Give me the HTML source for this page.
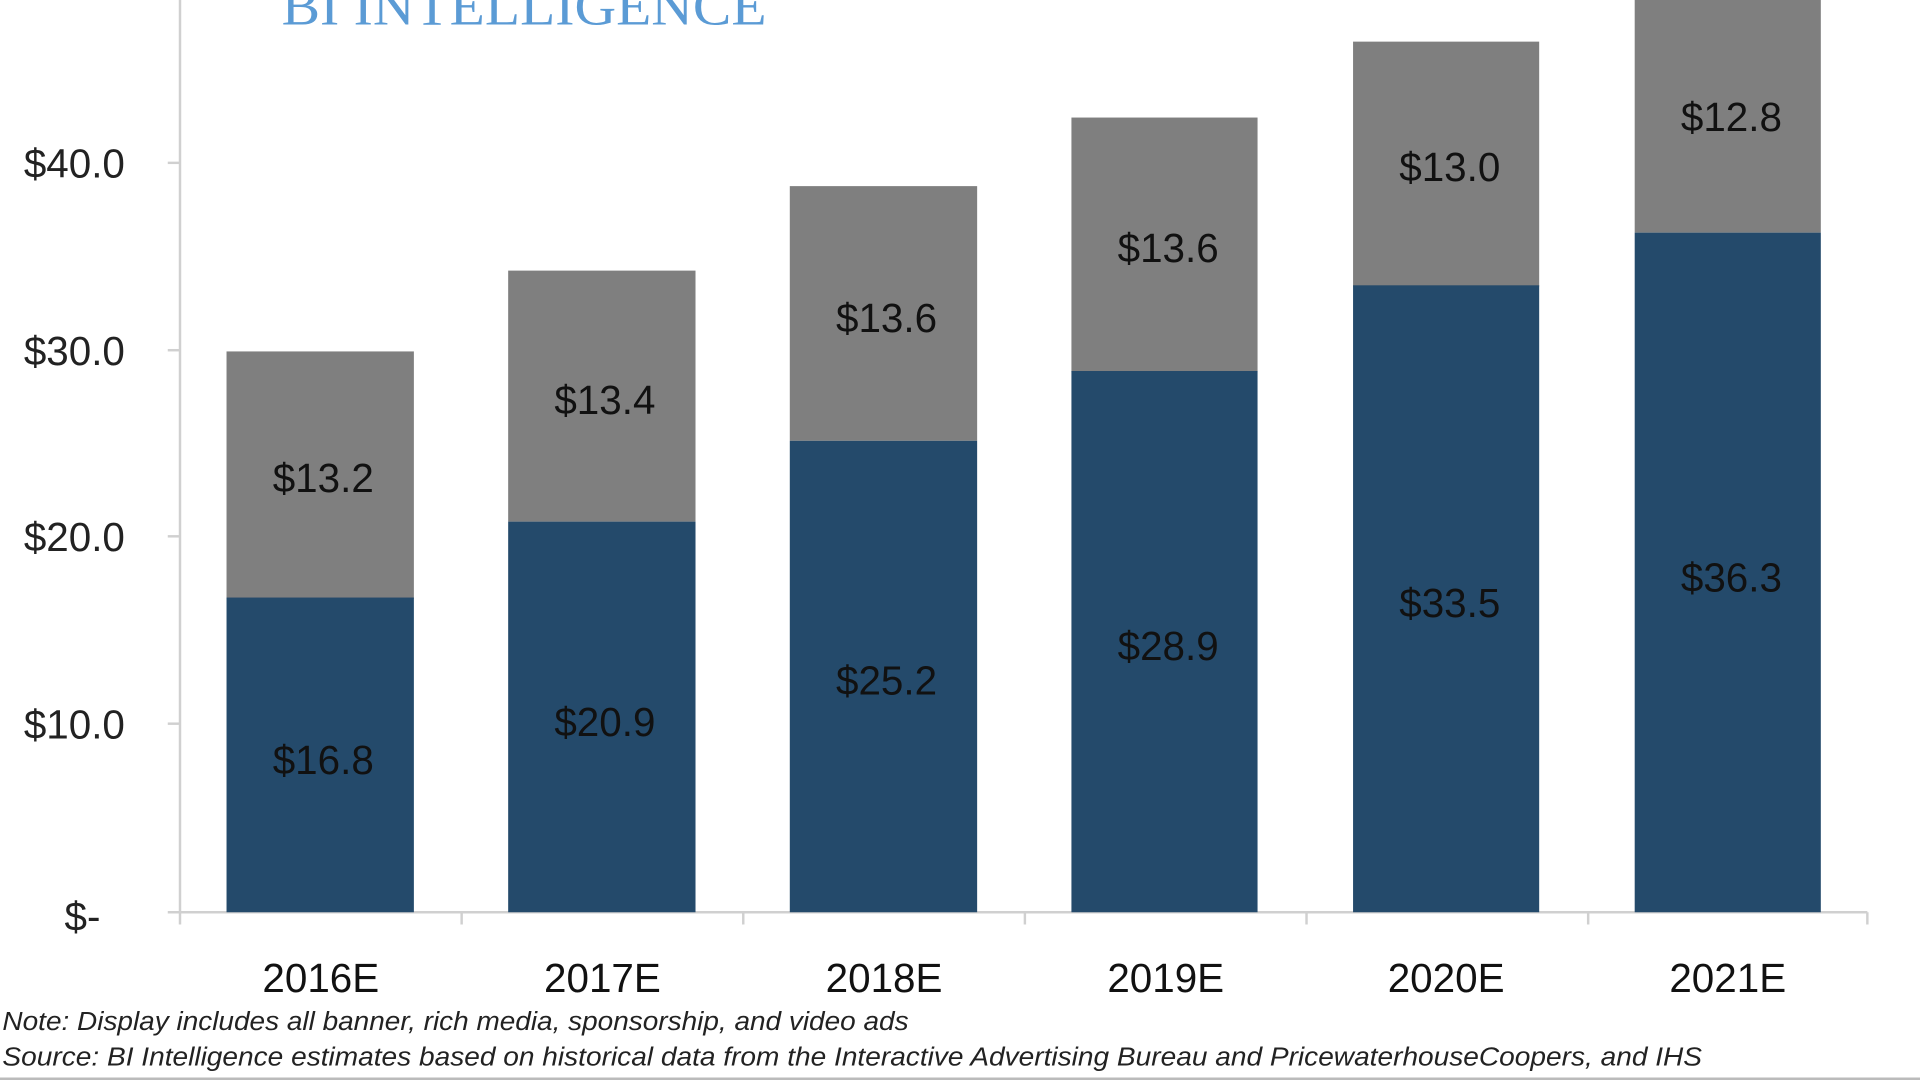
<!DOCTYPE html>
<html><head><meta charset="utf-8"><style>html,body{margin:0;padding:0;background:#fff;overflow:hidden}svg{display:block}</style></head>
<body>
<svg width="1920" height="1080" viewBox="0 0 1568 882" xmlns="http://www.w3.org/2000/svg" font-family="Liberation Sans, sans-serif">
<rect width="1568" height="882" fill="#fff"/>
<text x="230" y="20" font-family="Liberation Serif, serif" font-size="44" fill="#5b9bd5" textLength="396" lengthAdjust="spacingAndGlyphs">BI INTELLIGENCE</text>
<g stroke="#d0d0d0" stroke-width="2">
<line x1="147" y1="0" x2="147" y2="745"/>
<line x1="137" y1="745" x2="1525" y2="745"/>
<line x1="137" y1="133" x2="147" y2="133"/><line x1="137" y1="286" x2="147" y2="286"/><line x1="137" y1="438" x2="147" y2="438"/><line x1="137" y1="591" x2="147" y2="591"/>
<line x1="147" y1="745" x2="147" y2="755"/><line x1="377" y1="745" x2="377" y2="755"/><line x1="607" y1="745" x2="607" y2="755"/><line x1="837" y1="745" x2="837" y2="755"/><line x1="1067" y1="745" x2="1067" y2="755"/><line x1="1297" y1="745" x2="1297" y2="755"/><line x1="1525" y1="745" x2="1525" y2="755"/>
</g>
<g font-size="33" fill="#222" text-anchor="end">
<text x="102" y="145">$40.0</text><text x="102" y="298">$30.0</text><text x="102" y="450">$20.0</text><text x="102" y="603">$10.0</text><text x="82" y="760">$-</text>
</g>
<g fill="#7f7f7f">
<rect x="185" y="287" width="153" height="202"/><rect x="415" y="221" width="153" height="205"/><rect x="645" y="152" width="153" height="208"/><rect x="875" y="96" width="152" height="208"/><rect x="1105" y="34" width="152" height="200"/><rect x="1335" y="-10" width="152" height="200"/>
</g>
<g fill="#244a6b">
<rect x="185" y="488" width="153" height="257"/><rect x="415" y="426" width="153" height="319"/><rect x="645" y="360" width="153" height="385"/><rect x="875" y="303" width="152" height="442"/><rect x="1105" y="233" width="152" height="512"/><rect x="1335" y="190" width="152" height="555"/>
</g>
<g font-size="33" fill="#111" text-anchor="middle">
<text x="264" y="402">$13.2</text><text x="494" y="338">$13.4</text><text x="724" y="271">$13.6</text><text x="954" y="214">$13.6</text><text x="1184" y="148">$13.0</text><text x="1414" y="107">$12.8</text>
<text x="264" y="632">$16.8</text><text x="494" y="601">$20.9</text><text x="724" y="567">$25.2</text><text x="954" y="539">$28.9</text><text x="1184" y="504">$33.5</text><text x="1414" y="483">$36.3</text>
<text x="262" y="810">2016E</text><text x="492" y="810">2017E</text><text x="722" y="810">2018E</text><text x="952" y="810">2019E</text><text x="1181" y="810">2020E</text><text x="1411" y="810">2021E</text>
</g>
<g font-size="21" fill="#222" font-style="italic">
<text x="2" y="841" textLength="740" lengthAdjust="spacingAndGlyphs">Note: Display includes all banner, rich media, sponsorship, and video ads</text>
<text x="2" y="870" textLength="1388" lengthAdjust="spacingAndGlyphs">Source: BI Intelligence estimates based on historical data from the Interactive Advertising Bureau and PricewaterhouseCoopers, and IHS</text>
</g>
<line x1="0" y1="881" x2="1568" y2="881" stroke="#bbb" stroke-width="2"/>
</svg>
</body></html>
